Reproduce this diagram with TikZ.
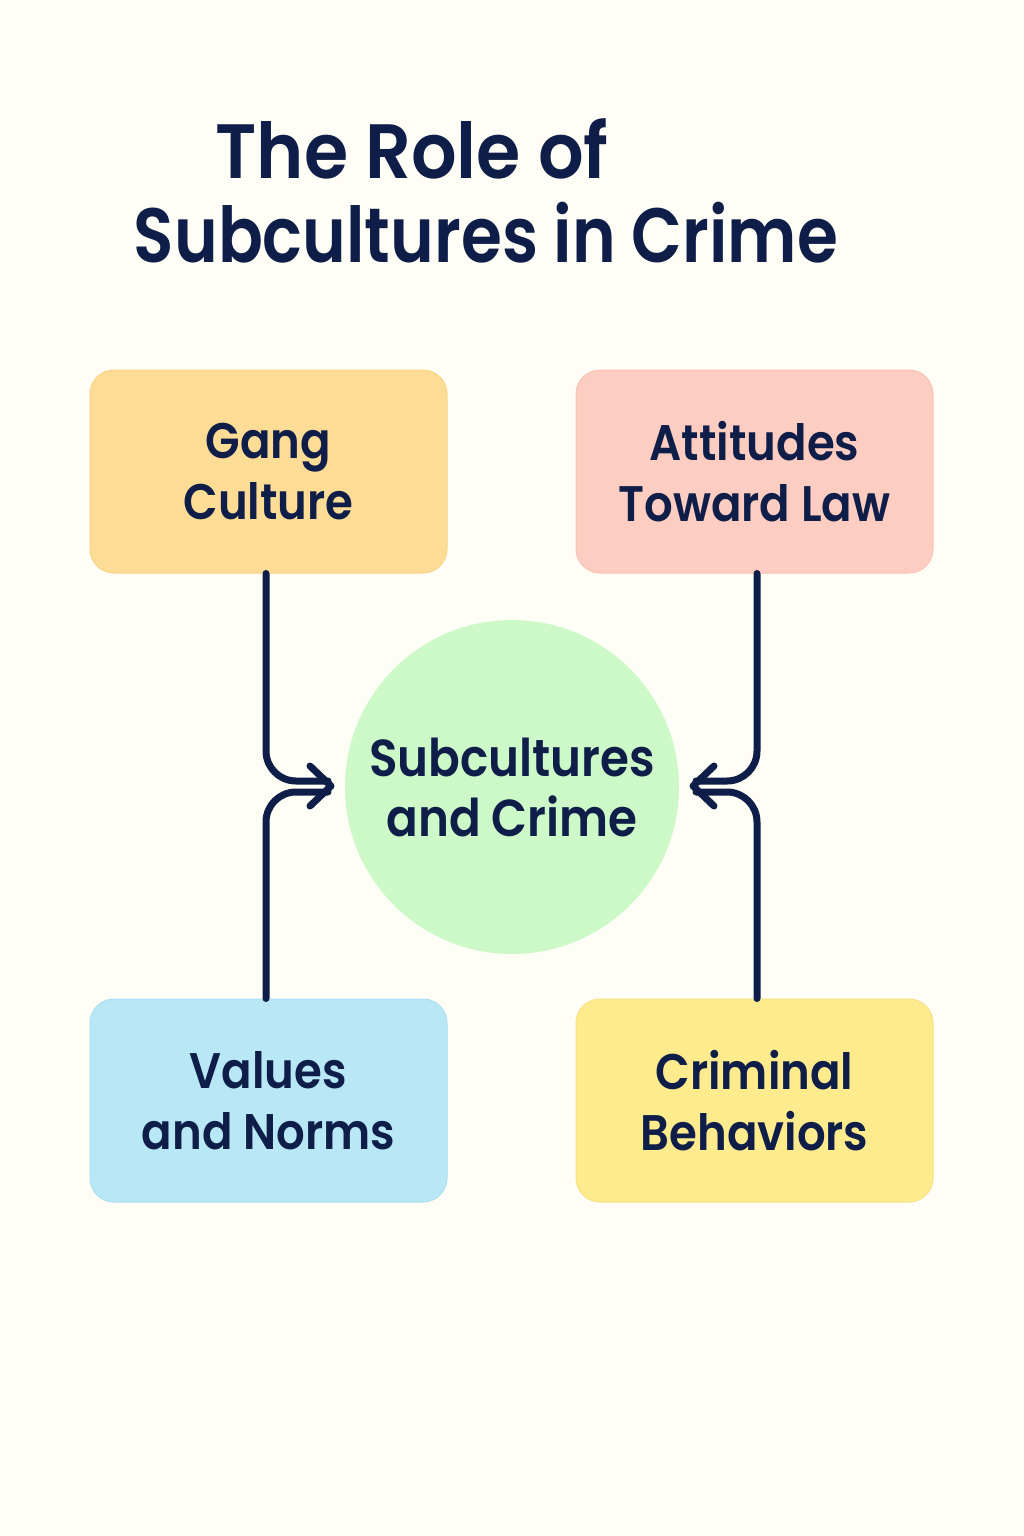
\documentclass[tikz,border=0pt]{standalone}
\usepackage{fontspec}
\setmainfont{Poppins SemiBold}[FakeStretch=0.9]
\newfontfamily\titlefont{Poppins SemiBold}[FakeStretch=0.86]
\newfontfamily\titlefontwide{Poppins SemiBold}[FakeStretch=0.93]
\usetikzlibrary{calc}
\definecolor{bgc}{HTML}{FEFDF6}
\definecolor{ink}{HTML}{0F1E48}
\definecolor{gangf}{HTML}{FDDC96}
\definecolor{gangd}{HTML}{F9D487}
\definecolor{attf}{HTML}{FDCDC2}
\definecolor{attd}{HTML}{F9C3B7}
\definecolor{valf}{HTML}{B8E8F6}
\definecolor{vald}{HTML}{ABDFF0}
\definecolor{crimf}{HTML}{FDEB8E}
\definecolor{crimd}{HTML}{F8E283}
\definecolor{circf}{HTML}{CDF9C8}
\tikzset{
  card/.style={rectangle, rounded corners=24pt, minimum width=357pt, minimum height=203pt, line width=1pt, align=center, text=ink, font=\fontsize{50}{61}\selectfont, inner sep=0pt},
  hub/.style={circle, fill=circf, minimum size=334pt, align=center, text=ink, font=\fontsize{52}{60}\selectfont, inner sep=0pt},
  titletext/.style={text=ink, font=\titlefont\fontsize{77}{84}\selectfont, inner sep=0pt, anchor=base},
  conn/.style={draw=ink, line width=7pt, line cap=round, line join=round, rounded corners=30pt},
  chev/.style={draw=ink, line width=7pt, line cap=round, line join=round}
}
\begin{document}
\begin{tikzpicture}[x=1pt,y=-1pt]
\fill[bgc] (0,0) rectangle (1024,1536);
\useasboundingbox (0,0) rectangle (1024,1536);
\node[titletext, font=\titlefontwide\fontsize{77}{84}\selectfont] (t1) at (412,178) {The Role of};
\node[titletext] (t2) at (486,262) {Subcultures in Crime};
\node[card, fill=gangf, draw=gangd] (gang) at (268.5,471.5) {Gang\\Culture};
\node[card, fill=attf, draw=attd] (att) at (754.5,471.5) {Attitudes\\Toward Law};
\node[card, fill=valf, draw=vald] (val) at (268.5,1100.5) {Values\\and Norms};
\node[card, fill=crimf, draw=crimd] (crim) at (754.5,1100.5) {Criminal\\Behaviors};
\node[hub] (hub) at (512,787) {Subcultures\\and Crime};
\coordinate (tipL) at (331,786);
\coordinate (tipR) at (693,786);
\coordinate (tipLa) at (328,781);
\coordinate (tipLb) at (328,792);
\coordinate (tipRa) at (696,781);
\coordinate (tipRb) at (696,792);
\draw[conn] (gang.south -| 266,0) |- (tipLa);
\draw[conn] (val.north -| 266,0) |- (tipLb);
\draw[conn] (att.south -| 757,0) |- (tipRa);
\draw[conn] (crim.north -| 757,0) |- (tipRb);
\draw[chev] ($(tipL)+(-21,-20)$) -- (tipL) -- ($(tipL)+(-21,20)$);
\draw[chev] ($(tipR)+(21,-20)$) -- (tipR) -- ($(tipR)+(21,20)$);
\end{tikzpicture}
\end{document}
